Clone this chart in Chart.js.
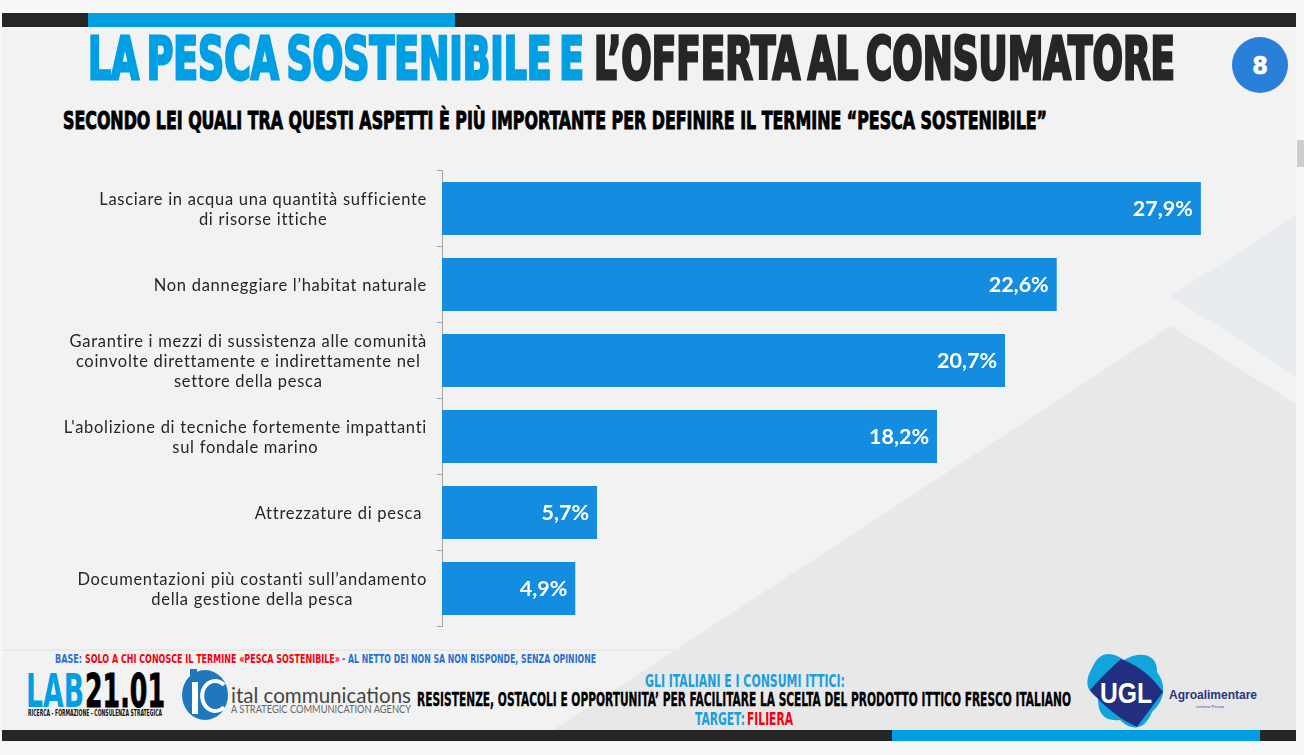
<!DOCTYPE html>
<html lang="it">
<head>
<meta charset="utf-8">
<title>La pesca sostenibile</title>
<script src="https://cdn.jsdelivr.net/npm/chart.js@4"></script>
<style>
html,body{margin:0;padding:0;width:1304px;height:755px;overflow:hidden;background:#f8f8f8}
#deco,#chart{position:absolute;left:0;top:0;width:1304px;height:755px;display:block}
#deco text{font-family:"Liberation Sans Narrow","DejaVu Sans Condensed",sans-serif;font-weight:700}
</style>
</head>
<body>
<svg id="deco" width="1304" height="755" viewBox="0 0 1304 755" xmlns="http://www.w3.org/2000/svg">
  <rect x="2" y="13" width="1294" height="729" fill="#f2f2f2"/>
  <polygon points="1171,296 1296,215 1296,377" fill="#e8ebf0"/>
  <polygon points="1171,326 1296,404 1296,730 553,730" fill="#e8e8e8"/>
  <rect x="2" y="649" width="1294" height="2" fill="#e9e9e9"/>
  <rect x="2" y="13" width="1294" height="14" fill="#262626"/>
  <rect x="88" y="13" width="367" height="14" fill="#009fe3"/>
  <rect x="2" y="730" width="1294" height="11" fill="#262626"/>
  <rect x="892" y="730" width="368" height="11" fill="#009fe3"/>
  <rect x="1297" y="0" width="7" height="755" fill="#f8f8f8"/>
  <rect x="1297" y="140" width="7" height="27" fill="#cdcdcd"/>

  <text x="88" y="79" font-size="58" fill="#009fe3" stroke="#009fe3" stroke-width="2.8" stroke-linejoin="miter" word-spacing="-7" textLength="496" lengthAdjust="spacingAndGlyphs" xml:space="preserve">LA PESCA SOSTENIBILE E</text>
  <text x="594" y="79" font-size="58" fill="#262626" stroke="#262626" stroke-width="2.8" stroke-linejoin="miter" word-spacing="-7" textLength="581" lengthAdjust="spacingAndGlyphs">L’OFFERTA AL CONSUMATORE</text>
  <circle cx="1260" cy="65" r="28" fill="#2a7fd8"/>
  <text x="1260" y="74" font-size="25" fill="#ffffff" stroke="#ffffff" stroke-width=".6" text-anchor="middle">8</text>
  <text x="63" y="129" font-size="25" fill="#000000" stroke="#000000" stroke-width=".9" textLength="984" lengthAdjust="spacingAndGlyphs">SECONDO LEI QUALI TRA QUESTI ASPETTI È PIÙ IMPORTANTE PER DEFINIRE IL TERMINE “PESCA SOSTENIBILE”</text>

  <text x="55" y="663" font-size="12.5" fill="#2a6fd0" textLength="27" lengthAdjust="spacingAndGlyphs">BASE:</text>
  <text x="85" y="663" font-size="12.5" fill="#f5000f" textLength="255" lengthAdjust="spacingAndGlyphs">SOLO A CHI CONOSCE IL TERMINE «PESCA SOSTENIBILE»</text>
  <text x="342" y="663" font-size="12.5" fill="#2a6fd0" textLength="254" lengthAdjust="spacingAndGlyphs">- AL NETTO DEI NON SA NON RISPONDE, SENZA OPINIONE</text>

  <text x="26" y="707" font-size="47" fill="#009fe3" textLength="58" lengthAdjust="spacingAndGlyphs">LAB</text>
  <text x="85" y="707" font-size="47" fill="#000000" stroke="#000" stroke-width=".8" textLength="80" lengthAdjust="spacingAndGlyphs">21.01</text>
  <text x="28" y="716" font-size="9" fill="#111111" textLength="134" lengthAdjust="spacingAndGlyphs">RICERCA - FORMAZIONE - CONSULENZA STRATEGICA</text>

  <ellipse cx="205" cy="695" rx="23" ry="25" fill="#1f77bd"/>
  <rect x="190" y="669" width="7" height="9" fill="#1f77bd"/>
  <rect x="192" y="682" width="6" height="32" fill="#ffffff"/>
  <path d="M224 685 A13 15 0 1 0 224 707" fill="none" stroke="#ffffff" stroke-width="4"/>
  <text x="231" y="703" font-size="22" fill="#444444" style="font-family:Lato,sans-serif;font-weight:400" textLength="180" lengthAdjust="spacingAndGlyphs">ital communications</text>
  <text x="231" y="713" font-size="11" fill="#666666" style="font-family:Lato,sans-serif;font-weight:400" textLength="180" lengthAdjust="spacingAndGlyphs">A STRATEGIC COMMUNICATION AGENCY</text>

  <text x="645" y="687" font-size="18" fill="#1a9fdc" textLength="200" lengthAdjust="spacingAndGlyphs">GLI ITALIANI E I CONSUMI ITTICI:</text>
  <text x="417" y="706" font-size="19" fill="#000000" stroke="#000" stroke-width=".3" textLength="654" lengthAdjust="spacingAndGlyphs">RESISTENZE, OSTACOLI E OPPORTUNITA’ PER FACILITARE LA SCELTA DEL PRODOTTO ITTICO FRESCO ITALIANO</text>
  <text x="695" y="725" font-size="18" fill="#1a9fdc" textLength="50" lengthAdjust="spacingAndGlyphs">TARGET:</text>
  <text x="747" y="725" font-size="18" fill="#f5000f" textLength="46" lengthAdjust="spacingAndGlyphs">FILIERA</text>

  <path d="M1092 668 C1100 650,1112 652,1124 660 C1140 650,1158 654,1157 672 C1170 690,1160 705,1152 712 C1145 730,1132 732,1120 720 C1100 722,1098 708,1098 698 C1084 690,1086 678,1092 668Z" fill="#12a5dc"/>
  <path d="M1121 659 Q1146 668 1163 692 Q1148 712 1137 727 Q1112 716 1090 690 Q1106 672 1121 659Z" fill="#222f80"/>
  <text x="1126" y="703" font-size="30" fill="#ffffff" text-anchor="middle" style="font-family:'Liberation Sans',sans-serif" textLength="52" lengthAdjust="spacingAndGlyphs">UGL</text>
  <text x="1169" y="699" font-size="12" fill="#2b3580" style="font-family:'Liberation Sans',sans-serif" textLength="88" lengthAdjust="spacingAndGlyphs">Agroalimentare</text>
  <text x="1196" y="708" font-size="4" fill="#6a7ab0" style="font-family:'Liberation Sans',sans-serif" textLength="28" lengthAdjust="spacingAndGlyphs">settore Pesca</text>
</svg>
<canvas id="chart" width="1304" height="755"></canvas>
<script>
const categories = [
  ["Lasciare in acqua una quantità sufficiente", "di risorse ittiche"],
  ["Non danneggiare l’habitat naturale"],
  ["Garantire i mezzi di sussistenza alle comunità", "coinvolte direttamente e indirettamente nel", "settore della pesca"],
  ["L'abolizione di tecniche fortemente impattanti", "sul fondale marino"],
  ["Attrezzature di pesca "],
  ["Documentazioni più costanti sull’andamento", "della gestione della pesca"]
];
const values = [27.9, 22.6, 20.7, 18.2, 5.7, 4.9];

const LABEL_FONT = '16.5px Lato, sans-serif';
const VALUE_FONT = '700 21.5px Lato, sans-serif';

const categoryLabels = {
  id: 'categoryLabels',
  afterDraw(chart) {
    const ctx = chart.ctx, s = chart.scales.y;
    ctx.save();
    ctx.font = LABEL_FONT;
    ctx.letterSpacing = '0.72px';
    ctx.fillStyle = '#262626';
    ctx.textBaseline = 'middle';
    ctx.textAlign = 'center';
    const right = s.right - 15, lh = 20;
    categories.forEach((lines, i) => {
      const w = Math.max(...lines.map(l => ctx.measureText(l).width));
      const cy = s.getPixelForValue(i);
      lines.forEach((l, j) => {
        ctx.fillText(l, right - w / 2, cy + (j - (lines.length - 1) / 2) * lh + 1);
      });
    });
    ctx.restore();
  }
};
const valueLabels = {
  id: 'valueLabels',
  afterDatasetsDraw(chart) {
    const ctx = chart.ctx, meta = chart.getDatasetMeta(0);
    ctx.save();
    ctx.font = VALUE_FONT;
    ctx.fillStyle = '#ffffff';
    ctx.textAlign = 'right';
    ctx.textBaseline = 'middle';
    meta.data.forEach((bar, i) => {
      ctx.fillText(values[i].toFixed(1).replace('.', ',') + '%', bar.x - 8, bar.y + 1);
    });
    ctx.restore();
  }
};

new Chart(document.getElementById('chart'), {
  type: 'bar',
  data: {
    labels: categories.map(l => l.join(' ')),
    datasets: [{
      data: values,
      backgroundColor: '#148ce0',
      borderWidth: 0,
      categoryPercentage: 1,
      barPercentage: 0.695
    }]
  },
  options: {
    indexAxis: 'y',
    responsive: false,
    animation: false,
    devicePixelRatio: 1,
    layout: { padding: { left: 0, top: 170.5, right: 46, bottom: 128.5 } },
    plugins: { legend: { display: false }, tooltip: { enabled: false } },
    scales: {
      x: { display: false, min: 0, max: 30 },
      y: {
        afterFit(s) { s.width = 442; },
        ticks: { display: false },
        border: { display: true, color: '#a6a6a6', width: 1 },
        grid: { drawOnChartArea: false, drawTicks: true, tickLength: 5, color: '#a6a6a6' }
      }
    }
  },
  plugins: [categoryLabels, valueLabels]
});
</script>
</body>
</html>
